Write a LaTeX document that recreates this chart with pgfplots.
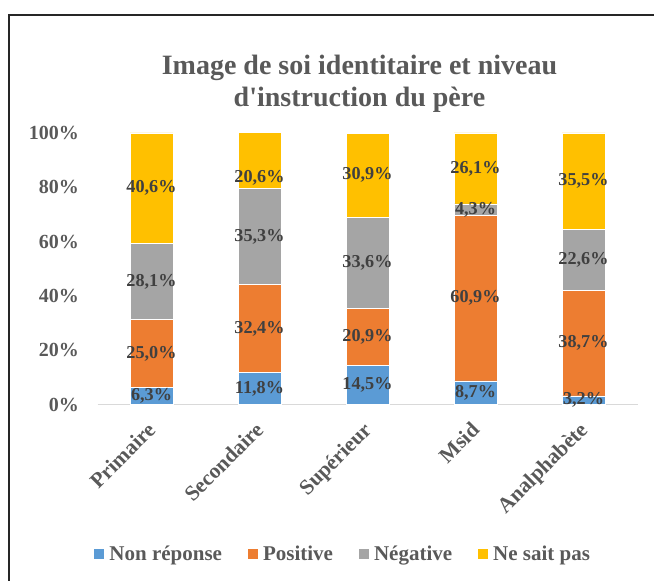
\documentclass[border=0pt]{standalone}
\usepackage{fontspec}
\setmainfont{Liberation Serif}
\usepackage{pgfplots}
\pgfplotsset{compat=1.18}
\usepackage{pgfplotstable}
\definecolor{cBlue}{HTML}{5B9BD5}
\definecolor{cOrange}{HTML}{ED7D31}
\definecolor{cGray}{HTML}{A5A5A5}
\definecolor{cGold}{HTML}{FFC000}
\definecolor{txt}{HTML}{595959}
\definecolor{lbl}{HTML}{404040}
\definecolor{axl}{HTML}{D9D9D9}

\pgfplotstableread{
x nonrep pos neg nsp dy
0 6.3 25.0 28.1 40.6 0
1 11.8 32.4 35.3 20.6 17
2 14.5 20.9 33.6 30.9 0
3 8.7 60.9 4.3 26.1 0
4 3.2 38.7 22.6 35.5 0
}\data

\begin{document}
\begin{tikzpicture}[x=1bp,y=1bp]
\path[use as bounding box] (0,0) rectangle (654,581);
\draw[line width=1.4bp, color=black!85] (9,-5) -- (9,566) -- (660,566);
\begin{axis}[
  at={(97.5bp,176.5bp)}, anchor=south west,
  scale only axis, width=540bp, height=271.5bp,
  ybar stacked, bar width=43bp,
  xmin=-0.5, xmax=4.5, ymin=0, ymax=100,
  clip=false,
  axis x line*=bottom, axis y line*=left,
  x axis line style={-, draw=axl, line width=1.8bp},
  y axis line style={draw=none},
  xtick={0,1,2,3,4},
  xticklabels={Primaire,Secondaire,Supérieur,Msid,Analphabète},
  ytick={0,20,40,60,80,100},
  yticklabel={\pgfmathprintnumber{\tick}\%},
  major tick length=0pt,
  tick style={draw=none},
  /pgf/number format/assume math mode=true,
  ticklabel style={text=txt},
  yticklabel style={font=\fontsize{20bp}{24bp}\selectfont\bfseries, anchor=east, inner sep=0pt, xshift=-18.5bp},
  xticklabel style={font=\fontsize{21.5bp}{25bp}\selectfont\bfseries, inner sep=0pt, xshift=-5.5bp, yshift=-16bp, rotate=45, anchor=north east},
  every axis plot/.append style={draw=white, line width=0.5bp,
     legend image code/.code={\fill[##1] (0bp,-5.25bp) rectangle (10.5bp,5.25bp);}},
  point meta=explicit,
  nodes near coords={\pgfmathprintnumber[fixed,fixed zerofill,precision=1,use comma]{\pgfplotspointmeta}\%},
  every node near coord/.append style={anchor=center,
     font=\fontsize{18.2bp}{22bp}\selectfont\bfseries, text=lbl, inner sep=0pt},
  legend columns=4,
  legend cell align=left,
  legend style={at={(0.4523,-0.5506)}, anchor=center, draw=none, fill=none,
     font=\fontsize{21bp}{25bp}\selectfont\bfseries, text=txt,
     inner sep=0pt, column sep=0pt,
     /tikz/every odd column/.append style={column sep=5bp},
     /tikz/every even column/.append style={column sep=25bp},
     nodes={inner sep=0pt}},
]
\addplot[fill=cBlue] table[x=x,y=nonrep,meta=nonrep]{\data};
\addlegendentry{Non réponse}
\addplot[fill=cOrange] table[x=x,y=pos,meta=pos]{\data};
\addlegendentry{Positive}
\addplot[fill=cGray] table[x=x,y=neg,meta=neg]{\data};
\addlegendentry{Négative}
\addplot[fill=cGold, visualization depends on={\thisrow{dy} \as \dyval},
   every node near coord/.append style={yshift=-\dyval bp}] table[x=x,y=nsp,meta=nsp]{\data};
\addlegendentry{Ne sait pas}
\end{axis}
\node[anchor=base, text=txt, font=\fontsize{28bp}{32bp}\selectfont\bfseries] at (359.5,506) {Image de soi identitaire et niveau};
\node[anchor=base, text=txt, font=\fontsize{28bp}{32bp}\selectfont\bfseries] at (359.5,474) {d\textquotesingle instruction du père};
\end{tikzpicture}
\end{document}
